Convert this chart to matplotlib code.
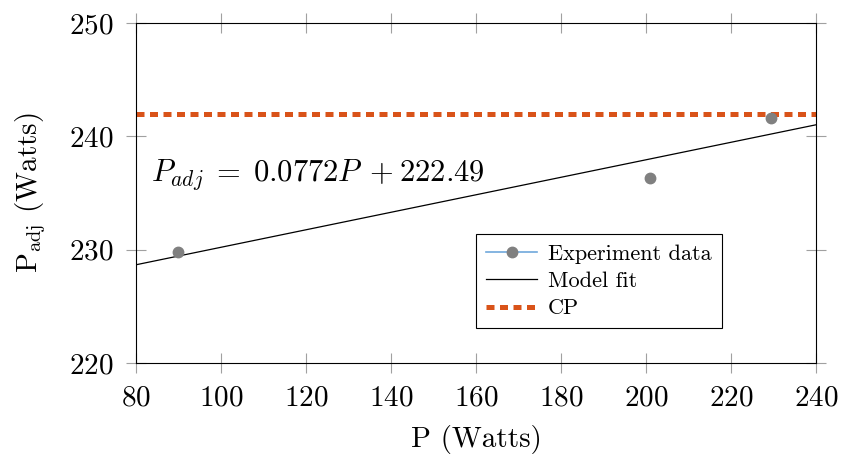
import numpy as np
import matplotlib
matplotlib.use('Agg')
from matplotlib import pyplot as plt
from matplotlib.lines import Line2D

plt.rcParams['font.family'] = 'cmr10'
plt.rcParams['mathtext.fontset'] = 'cm'
plt.rcParams['axes.formatter.use_mathtext'] = True

# experiment data
power = [90, 201, 229.5]
p_adj = [229.8, 236.3, 241.6]

# model fit P_adj = a*P + b
slope = 0.0772
intercept = 222.49
fit_range = [80, 240]

cp_value = 242

xticks = [80, 100, 120, 140, 160, 180, 200, 220, 240]
yticks = [220, 230, 240, 250]

fig = plt.figure(figsize=(8.41, 4.57), dpi=100)
ax = fig.add_axes([0.1617, 0.2057, 0.8086, 0.744])

ax.plot(power, p_adj, linestyle='none', marker='o', markersize=7.5,
        color='#808080', zorder=3)
fit_x = np.array(fit_range)
ax.plot(fit_x, slope * fit_x + intercept, color='black', linewidth=0.9)
ax.axhline(cp_value, color='#d95319', linewidth=3.6, dashes=(1.6, 1.1))

ax.text(83.5, 236.6, r'$P_{adj}\;{=}\;0.0772P\;\,{+}\:222.49$', fontsize=22,
        va='center', ha='left')

ax.set_xlim(80, 240)
ax.set_ylim(220, 250)
ax.set_xticks(xticks)
ax.set_yticks(yticks)
ax.tick_params(direction='inout', length=14, width=0.8, color='#a0a0a0',
               top=True, right=True, labelsize=21, pad=9)
for s in ax.spines.values():
    s.set_linewidth(0.8)

ax.set_xlabel('P (Watts)', fontsize=21, labelpad=10)
ax.set_ylabel(r'P$_{\rm adj}$ (Watts)', fontsize=21, labelpad=15)

handles = [
    Line2D([], [], color='#6fa8dc', linewidth=1.2, marker='o',
           markersize=7.5, markerfacecolor='#808080', markeredgecolor='#808080'),
    Line2D([], [], color='black', linewidth=0.9),
    Line2D([], [], color='#d95319', linewidth=3.6, dashes=(1.6, 1.1)),
]
leg = ax.legend(handles, ['Experiment data', 'Model fit', 'CP'],
                loc='upper left', bbox_to_anchor=(0.5, 0.379), borderaxespad=0,
                fontsize=16, fancybox=False, edgecolor='black', framealpha=1,
                handlelength=2.3, handletextpad=0.5, labelspacing=0.35,
                borderpad=0.45)
leg.get_frame().set_linewidth(0.8)

fig.savefig('out.png', dpi=100)
